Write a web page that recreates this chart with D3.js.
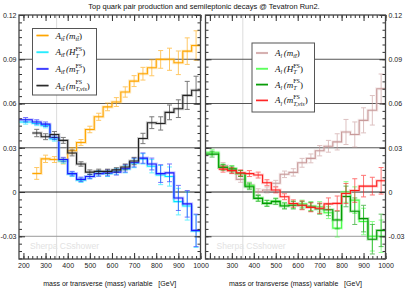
<!DOCTYPE html>
<html>
<head>
<meta charset="utf-8">
<script src="https://cdn.jsdelivr.net/npm/d3@7"></script>
<style>
  body { margin: 0; background: #fff; }
  svg { display: block; }
</style>
</head>
<body>
<svg id="chart" width="407" height="288"></svg>
<script>
// bin edges in GeV (first bin starts at the frame edge)
const binEdges = [180, 240, 280, 320, 360, 400, 440, 480, 520, 560, 600,
                  640, 680, 720, 760, 800, 840, 880, 920, 960, 1000];

// left panel: A_tt asymmetry
const attMtt     = [null, 0.0126, 0.0225, 0.022, 0.021, 0.028, 0.0336, 0.0424, 0.051, 0.0577, 0.061,
                    0.0678, 0.0752, 0.0802, 0.0842, 0.0899, 0.090, 0.0876, 0.0955, 0.0993];
const attMttErr  = [null, 0.004, 0.0025, 0.002, 0.002, 0.002, 0.002, 0.0022, 0.0024, 0.0026, 0.003,
                    0.0035, 0.0037, 0.0043, 0.0054, 0.006, 0.0075, 0.008, 0.009, 0.010];
const attHt      = [0.0475, 0.0465, 0.045, 0.036, 0.021, 0.012, 0.008, 0.0105, 0.0128, 0.0125, 0.014,
                    0.0155, 0.0195, 0.0225, 0.0175, 0.0115, 0.0105, -0.0065, -0.0095, -0.0265];
const attHtErr   = [0.0015, 0.0015, 0.0015, 0.0015, 0.0015, 0.0015, 0.0015, 0.0015, 0.0018, 0.002, 0.002,
                    0.0025, 0.003, 0.0035, 0.0045, 0.0065, 0.0065, 0.009, 0.0095, 0.011];
const attMt      = [0.049, 0.0475, 0.046, 0.037, 0.022, 0.0125, 0.0086, 0.0105, 0.0125, 0.013, 0.0135,
                    0.016, 0.020, 0.023, 0.019, 0.0125, 0.013, -0.004, -0.008, -0.026];
const attMtErr   = [0.0015, 0.0015, 0.0015, 0.0015, 0.0015, 0.0015, 0.0015, 0.0015, 0.0018, 0.002, 0.002,
                    0.0025, 0.003, 0.0035, 0.004, 0.006, 0.006, 0.0085, 0.009, 0.011];
const attMtVis   = [null, 0.040, 0.0375, 0.039, 0.035, 0.0265, 0.019, 0.0135, 0.014, 0.014, 0.015,
                    0.017, 0.021, 0.0363, 0.047, 0.0465, 0.054, 0.0565, 0.0655, 0.069];
const attMtVisErr= [null, 0.0025, 0.002, 0.002, 0.002, 0.002, 0.0015, 0.0015, 0.0015, 0.0015, 0.0015,
                    0.002, 0.0025, 0.0035, 0.004, 0.0045, 0.005, 0.006, 0.0095, 0.0095];

// right panel: A_l asymmetry
const alMtt      = [null, 0.018, 0.0145, 0.0086, 0.0047, 0.0002, 0.0014, 0.0059, 0.012, 0.0133, 0.0198,
                    0.0228, 0.028, 0.031, 0.034, 0.0407, 0.039, 0.0486, 0.0554, 0.070];
const alMttErr   = [null, 0.002, 0.002, 0.002, 0.002, 0.002, 0.002, 0.002, 0.0022, 0.0025, 0.003,
                    0.003, 0.0035, 0.004, 0.0055, 0.0085, 0.0085, 0.0085, 0.010, 0.010];
const alHt       = [0.027, 0.017, 0.016, 0.0125, 0.0045, -0.004, -0.0075, -0.006, -0.009, -0.0085, -0.008,
                    -0.0095, -0.010, -0.014, -0.0245, 0.000, -0.0055, -0.020, -0.030, -0.030];
const alHtErr    = [0.002, 0.002, 0.002, 0.002, 0.002, 0.002, 0.002, 0.002, 0.002, 0.0025, 0.0025,
                    0.003, 0.0035, 0.004, 0.006, 0.007, 0.009, 0.009, 0.010, 0.011];
const alMt       = [0.0257, 0.0167, 0.0155, 0.0126, 0.0036, -0.0043, -0.0077, -0.0065, -0.0095, -0.009, -0.009,
                    -0.010, -0.0115, -0.012, -0.019, -0.003, -0.013, -0.018, -0.032, -0.026];
const alMtErr    = [0.002, 0.002, 0.002, 0.002, 0.002, 0.002, 0.002, 0.002, 0.002, 0.0025, 0.0025,
                    0.003, 0.0035, 0.004, 0.006, 0.007, 0.009, 0.009, 0.010, 0.011];
const alMtVis    = [null, 0.0155, 0.0145, 0.013, 0.0125, 0.0115, 0.0063, 0.0014, -0.0032, -0.0078, -0.009,
                    -0.0104, -0.011, -0.008, -0.0077, -0.001, 0.001, 0.004, 0.004, 0.0076];
const alMtVisErr = [null, 0.002, 0.002, 0.002, 0.002, 0.002, 0.002, 0.002, 0.002, 0.0025, 0.003,
                    0.003, 0.0035, 0.004, 0.005, 0.0068, 0.008, 0.0073, 0.006, 0.009];

// axes
const xTicks = [200, 300, 400, 500, 600, 700, 800, 900, 1000];
const xTickLabelsLeft  = ["200", "300", "400", "500", "600", "700", "800", "900", "1000"];
const xTickLabelsRight = ["", "300", "400", "500", "600", "700", "800", "900", "1000"];
const yTicks = [-0.03, 0, 0.03, 0.06, 0.09, 0.12];
const yTickLabels = ["-0.03", "0", "0.03", "0.06", "0.09", "0.12"];
const refLines = [-0.03, 0, 0.03, 0.06, 0.09];
const refColors = ["#999", "#222", "#555", "#555", "#555"];
const markerMass = 350;

const titleText = "Top quark pair production and semileptonic decays @ Tevatron Run2.";
const xLabelText = "mass or transverse (mass) variable   [GeV]";
const watermark = "Sherpa CSshower";

const panels = [
  {
    x0: 19, x1: 200.5, labelsRight: false, xLabels: xTickLabelsLeft,
    legend: {x: 32.5, y: 28.5, w: 64, h: 66.5, row0: 7, rowGap: 16.7},
    series: [
      {values: attMtt, errors: attMttErr, color: "#ffa500", glow: "#ffc860", a: "tt\u0304", v: "m", sup: "", vsub: "tt\u0304"},
      {values: attHt, errors: attHtErr, color: "#00e8ff", glow: "#80f4ff", a: "tt\u0304", v: "H", sup: "FS", vsub: "T"},
      {values: attMt, errors: attMtErr, color: "#1a1aff", glow: "#7a7aff", a: "tt\u0304", v: "m", sup: "FS", vsub: "T"},
      {values: attMtVis, errors: attMtVisErr, color: "#222", glow: "#888", a: "tt\u0304", v: "m", sup: "FS", vsub: "T,vis"}
    ]
  },
  {
    x0: 205.5, x1: 385.5, labelsRight: true, xLabels: xTickLabelsRight,
    legend: {x: 252, y: 43, w: 62.5, h: 69, row0: 10, rowGap: 15.8},
    series: [
      {values: alMtt, errors: alMttErr, color: "#c89a9a", glow: "#e4c8c8", a: "l", v: "m", sup: "", vsub: "tt\u0304"},
      {values: alHt, errors: alHtErr, color: "#44ff44", glow: "#9cff9c", a: "l", v: "H", sup: "FS", vsub: "T"},
      {values: alMt, errors: alMtErr, color: "#009a00", glow: "#66c066", a: "l", v: "m", sup: "FS", vsub: "T"},
      {values: alMtVis, errors: alMtVisErr, color: "#ff1a1a", glow: "#ff9090", a: "l", v: "m", sup: "FS", vsub: "T,vis"}
    ]
  }
];

const yTop = 15, yBottom = 259;
const sans = "'Liberation Sans', Arial, sans-serif";
const serif = "'Liberation Serif', 'Times New Roman', serif";

const svg = d3.select("#chart");

svg.append("text")
  .attr("x", 204).attr("y", 8.5)
  .attr("text-anchor", "middle")
  .style("font-family", sans).style("font-size", "7.5px").style("fill", "#111")
  .text(titleText);

const y = d3.scaleLinear().domain([-0.0454, 0.12]).range([yBottom, yTop]);

// writes italic/roman pieces one after another, sup+sub stacked
function richText(g, x, yy, parts) {
  let cx = x;
  parts.forEach(p => {
    let w = 0;
    p.forEach(s => {
      const t = g.append("text")
        .attr("x", cx).attr("y", yy + (s.dy || 0))
        .style("font-family", serif)
        .style("font-size", (s.size || 9) + "px")
        .style("font-style", s.italic ? "italic" : "normal")
        .style("fill", "#111")
        .text(s.t);
      w = Math.max(w, t.node().getComputedTextLength());
    });
    cx += w + (p.gap || 0);
  });
}

panels.forEach(panel => {
  const x = d3.scaleLinear().domain([180, 1000]).range([panel.x0, panel.x1]);
  const g = svg.append("g");

  // 350 GeV marker and reference lines
  g.append("line")
    .attr("x1", x(markerMass)).attr("x2", x(markerMass))
    .attr("y1", yTop).attr("y2", yBottom)
    .style("stroke", "#dcdcdc").style("stroke-width", 1);

  refLines.forEach((v, i) => {
    g.append("line")
      .attr("x1", panel.x0).attr("x2", panel.x1)
      .attr("y1", y(v)).attr("y2", y(v))
      .style("stroke", refColors[i]).style("stroke-width", 1);
  });

  g.append("text")
    .attr("x", panel.x0 + 11).attr("y", 248.5)
    .style("font-family", sans).style("font-size", "8.5px").style("fill", "#e2e2e2")
    .text(watermark);

  const line = d3.line().x(d => x(d[0])).y(d => y(d[1]));

  panel.series.forEach(s => {
    const pts = [];
    s.values.forEach((v, i) => {
      if (v === null) return;
      pts.push([binEdges[i], v], [binEdges[i + 1], v]);
    });

    g.append("path").datum(pts).attr("d", line)
      .style("fill", "none").style("stroke", s.glow)
      .style("stroke-width", 3).style("opacity", 0.4);

    const bars = s.values.map((v, i) => ({v: v, e: s.errors[i], c: (binEdges[i] + binEdges[i + 1]) / 2}))
      .filter(d => d.v !== null);

    const eb = g.append("g")
      .style("stroke", s.color).style("stroke-width", 1).style("opacity", 0.6);
    eb.selectAll(".v").data(bars).enter().append("line")
      .attr("x1", d => x(d.c)).attr("x2", d => x(d.c))
      .attr("y1", d => y(d.v - d.e)).attr("y2", d => y(d.v + d.e));
    eb.selectAll(".t").data(bars).enter().append("line")
      .attr("x1", d => x(d.c) - 2.5).attr("x2", d => x(d.c) + 2.5)
      .attr("y1", d => y(d.v + d.e)).attr("y2", d => y(d.v + d.e));
    eb.selectAll(".b").data(bars).enter().append("line")
      .attr("x1", d => x(d.c) - 2.5).attr("x2", d => x(d.c) + 2.5)
      .attr("y1", d => y(d.v - d.e)).attr("y2", d => y(d.v - d.e));

    g.append("path").datum(pts).attr("d", line)
      .style("fill", "none").style("stroke", s.color)
      .style("stroke-width", 1.1);
  });

  // ticks on all four sides, pointing inward
  const minorX = d3.range(200, 1001, 20);
  const minorY = d3.range(-0.045, 0.1201, 0.005);
  const style = a => a.call(ax => ax.select(".domain").remove())
    .call(ax => ax.selectAll("line").style("stroke", "#333"))
    .call(ax => ax.selectAll("text").style("font-family", sans).style("font-size", "7px").style("fill", "#222"));

  const xfmt = d => panel.xLabels[xTicks.indexOf(d)];
  g.append("g").attr("transform", `translate(0,${yBottom})`)
    .call(d3.axisBottom(x).tickValues(minorX).tickSize(-3).tickFormat("")).call(style);
  g.append("g").attr("transform", `translate(0,${yBottom})`)
    .call(d3.axisBottom(x).tickValues(xTicks).tickSize(-6).tickPadding(4.5).tickFormat(xfmt)).call(style);
  g.append("g").attr("transform", `translate(0,${yTop})`)
    .call(d3.axisTop(x).tickValues(minorX).tickSize(-3).tickFormat("")).call(style);
  g.append("g").attr("transform", `translate(0,${yTop})`)
    .call(d3.axisTop(x).tickValues(xTicks).tickSize(-6).tickFormat("")).call(style);

  const fmt = d => yTickLabels[yTicks.indexOf(d)];
  g.append("g").attr("transform", `translate(${panel.x0},0)`)
    .call(d3.axisLeft(y).tickValues(minorY).tickSize(-3).tickFormat("")).call(style);
  g.append("g").attr("transform", `translate(${panel.x0},0)`)
    .call(d3.axisLeft(y).tickValues(yTicks).tickSize(-6).tickPadding(2.5)
      .tickFormat(panel.labelsRight ? "" : fmt)).call(style);
  g.append("g").attr("transform", `translate(${panel.x1},0)`)
    .call(d3.axisRight(y).tickValues(minorY).tickSize(-3).tickFormat("")).call(style);
  g.append("g").attr("transform", `translate(${panel.x1},0)`)
    .call(d3.axisRight(y).tickValues(yTicks).tickSize(-6).tickPadding(3)
      .tickFormat(panel.labelsRight ? fmt : "")).call(style);

  g.append("rect")
    .attr("x", panel.x0).attr("y", yTop)
    .attr("width", panel.x1 - panel.x0).attr("height", yBottom - yTop)
    .style("fill", "none").style("stroke", "#444").style("stroke-width", 1.3);

  g.append("text")
    .attr("x", (panel.x0 + panel.x1) / 2).attr("y", 286)
    .attr("text-anchor", "middle")
    .style("font-family", sans).style("font-size", "7px").style("fill", "#111")
    .style("white-space", "pre")
    .text(xLabelText);

  // legend
  const L = panel.legend;
  const lg = g.append("g");
  lg.append("rect")
    .attr("x", L.x).attr("y", L.y).attr("width", L.w).attr("height", L.h)
    .style("fill", "#fff").style("stroke", "#555").style("stroke-width", 1);
  panel.series.forEach((s, i) => {
    const ry = L.y + L.row0 + i * L.rowGap;
    lg.append("line")
      .attr("x1", L.x + 4).attr("x2", L.x + 16)
      .attr("y1", ry).attr("y2", ry)
      .style("stroke", s.glow).style("stroke-width", 2.2);
    lg.append("line")
      .attr("x1", L.x + 4).attr("x2", L.x + 16)
      .attr("y1", ry).attr("y2", ry)
      .style("stroke", s.color).style("stroke-width", 1);
    const base = ry + 3;
    const parts = [
      [{t: "A", italic: true}],
      Object.assign([{t: s.a, italic: true, size: 6.2, dy: 2.2}], {gap: 1.5}),
      [{t: "(" + s.v, italic: true}],
      s.sup ? [{t: s.sup, size: 6, dy: -4.2}, {t: s.vsub, italic: true, size: 6.2, dy: 2.4}]
            : [{t: s.vsub, italic: true, size: 6.2, dy: 2.2}],
      [{t: ")"}]
    ];
    richText(lg, L.x + 23, base, parts);
  });
});
</script>
</body>
</html>
